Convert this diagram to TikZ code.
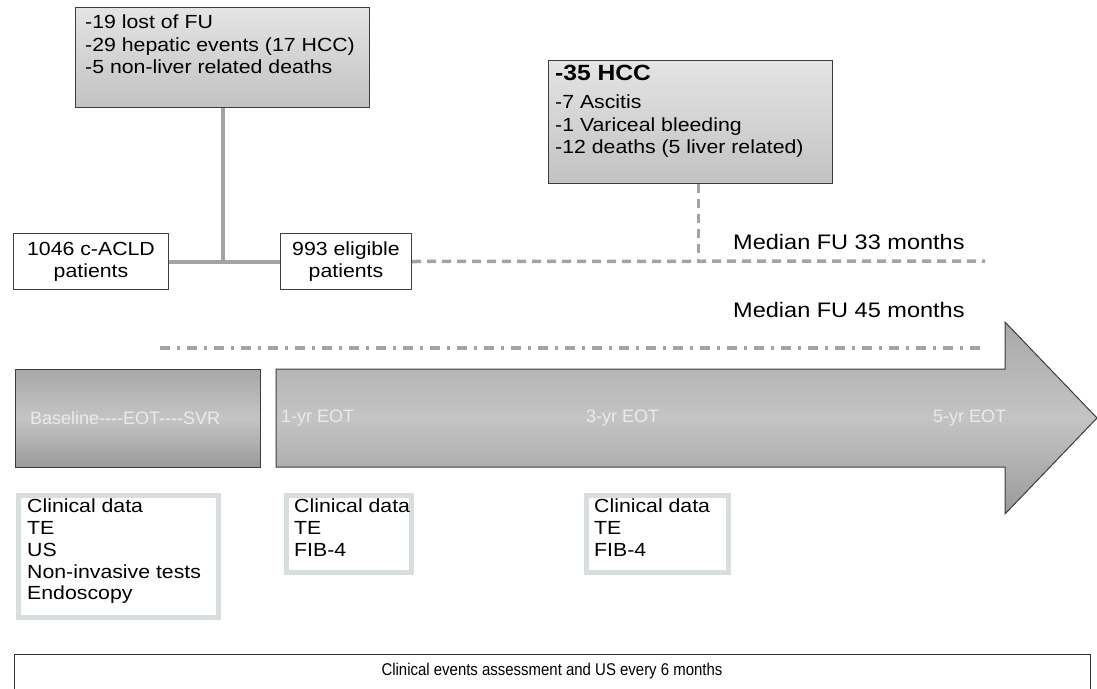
\documentclass[tikz,border=0pt]{standalone}
\usepackage{fontspec}
\setmainfont{Liberation Sans}[FakeStretch=1.12]
\newfontfamily\plainsans{Liberation Sans}[FakeStretch=0.88]
\newfontfamily\tlsans{Liberation Sans}
\definecolor{boxline}{HTML}{3C3C3C}
\definecolor{gtop}{HTML}{E4E4E4}
\definecolor{gbot}{HTML}{C2C2C2}
\definecolor{atop}{HTML}{A8A8A8}
\definecolor{amid}{HTML}{C4C4C4}
\definecolor{abot}{HTML}{9A9A9A}
\definecolor{connc}{HTML}{A3A3A3}
\definecolor{infoline}{HTML}{D8DEDD}
\definecolor{tltext}{HTML}{EBEBEB}
\tikzset{
  gbox/.style={draw=boxline, line width=1.3pt, top color=gtop, bottom color=gbot, anchor=north west, inner sep=0},
  wbox/.style={draw=black!75, line width=1pt, fill=white, align=center, anchor=north west, inner sep=0, font=\fontsize{19}{22}\selectfont},
  ibox/.style={draw=infoline, line width=5pt, fill=white, anchor=north west, inner sep=0},
  conn/.style={draw=connc, line width=4pt},
  fudash/.style={draw=connc, line width=3.5pt, dash pattern=on 9pt off 6pt},
  fudashdot/.style={draw=connc, line width=3.5pt, dash pattern=on 10pt off 7pt on 3pt off 7pt},
  txt/.style={font=\fontsize{19}{22.5}\selectfont, align=left, inner sep=0, anchor=north west},
  itxt/.style={font=\fontsize{19}{21.7}\selectfont, align=left, inner sep=0, anchor=north west},
  futxt/.style={font=\fontsize{21}{24}\selectfont, inner sep=0, anchor=base west},
  tltxt/.style={font=\tlsans\fontsize{18}{20}\selectfont, text=tltext, inner sep=0, anchor=west},
}
\begin{document}
\begin{tikzpicture}[x=1pt,y=-1pt]
\useasboundingbox (0,0) rectangle (1097,688);
% top event boxes
\node[gbox, minimum width=294pt, minimum height=100pt] (fu1) at (75,7) {};
\node[txt] (fu1t) at (85,15) {-19 lost of FU\\-29 hepatic events (17 HCC)\\-5 non-liver related deaths};
\node[gbox, minimum width=284pt, minimum height=123pt] (hcc) at (548,60) {};
\node[txt, font=\bfseries\fontsize{22}{24}\selectfont] (hcct) at (555,65) {-35 HCC};
\node[txt] (hccl) at (555,95) {-7 Ascitis\\-1 Variceal bleeding\\-12 deaths (5 liver related)};
% patient boxes
\node[wbox, minimum width=155pt, minimum height=56pt] (n1046) at (13,233) {1046 c-ACLD\\patients};
\node[wbox, minimum width=131pt, minimum height=56pt] (n993) at (280,233) {993 eligible\\patients};
% connectors
\draw[conn] (fu1.south) -- (fu1.south |- n1046.east);
\draw[conn] (n1046.east) -- (n993.west);
\coordinate (end33) at (985,261);
\coordinate (start45) at (160,348);
\coordinate (end45) at (985,348);
\coordinate (hccdrop) at ([xshift=8pt]hcc.south);
\draw[fudash] (n993.east) -- (end33);
\draw[fudash] (hccdrop) -- (hccdrop |- end33);
\draw[fudashdot] (start45) -- (end45);
\node[futxt] (fu33) at (733,249) {Median FU 33 months};
\node[futxt] (fu45) at (733,317) {Median FU 45 months};
% timeline
\node[draw=boxline, line width=1pt, inner sep=0, anchor=north west, minimum width=245pt, minimum height=98pt,
      top color=atop, bottom color=abot, middle color=amid] (base) at (15,369) {};
\node[tltxt] (baset) at (30,418) {Baseline----EOT----SVR};
\path[draw=boxline, line width=1pt, top color=atop, bottom color=abot, middle color=amid]
  (276,369) -- (1005,369) -- (1005,322) -- (1097,418) -- (1005,514) -- (1005,467) -- (276,467) -- cycle;
\node[tltxt] (y1) at (281,418) {1-yr EOT};
\node[tltxt] (y3) at (586,418) {3-yr EOT};
\node[tltxt] (y5) at (933,418) {5-yr EOT};
% info boxes
\node[ibox, minimum width=200pt, minimum height=122pt] (infoA) at (15.5,492.5) {};
\node[itxt] (infoAt) at (27,499) {Clinical data\\TE\\US\\Non-invasive tests\\Endoscopy};
\node[ibox, minimum width=125pt, minimum height=77pt] (infoB) at (283.5,492.5) {};
\node[itxt] (infoBt) at (294,499) {Clinical data\\TE\\FIB-4};
\node[ibox, minimum width=142pt, minimum height=77pt] (infoC) at (583.5,492.5) {};
\node[itxt] (infoCt) at (594,499) {Clinical data\\TE\\FIB-4};
% bottom box
\node[draw=black!80, line width=1pt, anchor=north west, inner sep=0, minimum width=1076pt, minimum height=50pt] (bottom) at (14,654) {};
\node[font=\plainsans\fontsize{17}{20}\selectfont, inner sep=0] (bottomt) at (552,671) {Clinical events assessment and US every 6 months};
\end{tikzpicture}
\end{document}
